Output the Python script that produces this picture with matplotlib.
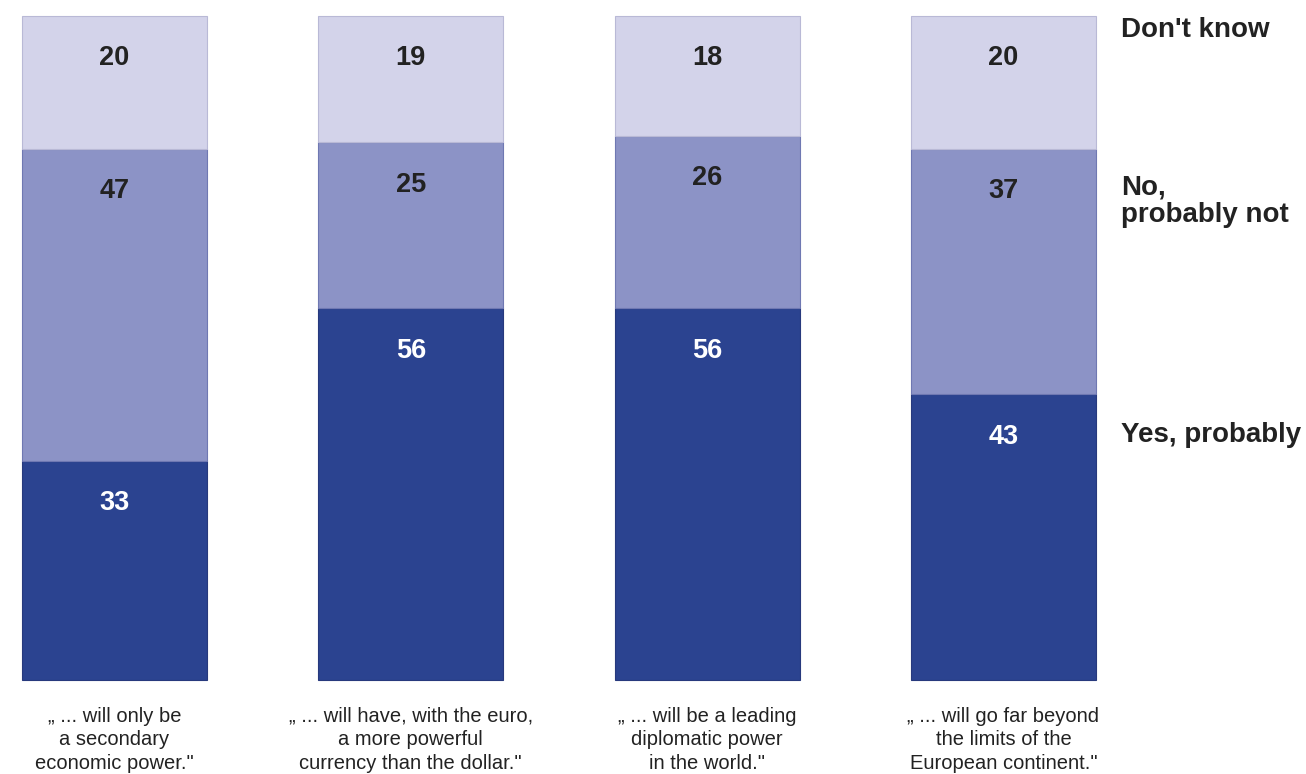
import matplotlib.pyplot as plt
import numpy as np

plt.rcParams['font.family'] = ['Liberation Sans', 'DejaVu Sans']

# data
statements = ['\u201e ... will only be\na secondary\neconomic power."',
              '\u201e ... will have, with the euro,\na more powerful\ncurrency than the dollar."',
              '\u201e ... will be a leading\ndiplomatic power\nin the world."',
              '\u201e ... will go far beyond\nthe limits of the\nEuropean continent."']
yes_probably = [33, 56, 56, 43]
no_probably_not = [47, 25, 26, 37]
dont_know = [20, 19, 18, 20]
series_names = ['Yes, probably', 'No,\nprobably not', "Don't know"]

colors = ['#2b4390', '#8c93c6', '#d3d3ea']
edges = ['#27397d', '#6f78b2', '#b9b9d6']
txt_colors = ['white', '#222222', '#222222']

fig = plt.figure(figsize=(13.06, 7.74), dpi=100)
ax = fig.add_axes([0, 0, 1, 1])

x = np.arange(len(statements))
width = 0.624
series = [yes_probably, no_probably_not, dont_know]
bottom = np.zeros(len(x))
for vals, c, ec, tc in zip(series, colors, edges, txt_colors):
    vals = np.array(vals)
    ax.bar(x, vals, width, bottom=bottom, color=c, edgecolor=ec, linewidth=0.8)
    for xi, b, v in zip(x, bottom, vals):
        ax.text(xi, b + v - 6.4, str(v), ha='center', va='center',
                fontsize=19.5, fontweight='bold', color=tc)
    bottom = bottom + vals

# series labels on the right
label_y = [36.9, 72.1, 97.9]
for name, ly in zip(series_names, label_y):
    ax.text(3.397, ly, name, ha='left', va='center',
            fontsize=20, fontweight='bold', color='#222222', linespacing=1.05)

# statement labels below bars
for xi, s in zip(x, statements):
    ax.text(xi, -4.0, s, ha='center', va='top', fontsize=14.5,
            color='#222222', linespacing=1.3)

px = 296.3
ax.set_xlim(-114.5 / px, (1306 - 114.5) / px)
ax.set_ylim(-94 / 6.64, 100 + 16 / 6.64)
ax.axis('off')

fig.savefig('out.png', dpi=100)
